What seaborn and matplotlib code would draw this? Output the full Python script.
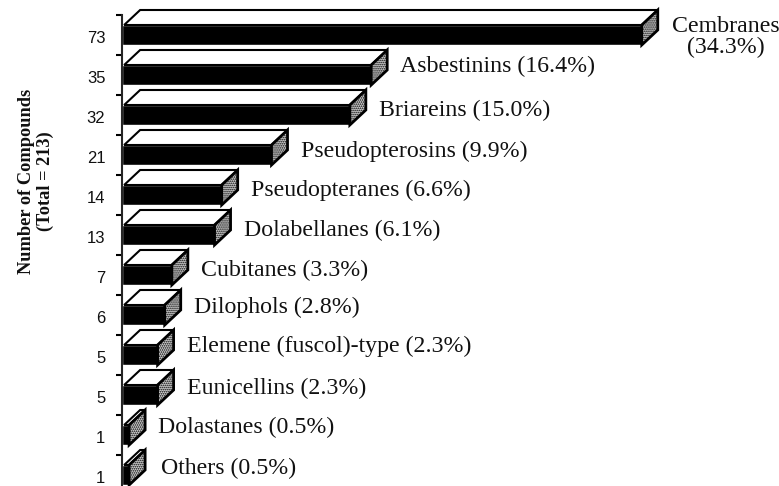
import matplotlib
matplotlib.use("Agg")
import matplotlib.pyplot as plt
import matplotlib.transforms as mtrans
from matplotlib.patches import Polygon
from matplotlib.ticker import FixedLocator
import pandas as pd
import seaborn as sns

names = ["Cembranes", "Asbestinins", "Briareins", "Pseudopterosins", "Pseudopteranes",
         "Dolabellanes", "Cubitanes", "Dilophols", "Elemene (fuscol)-type", "Eunicellins",
         "Dolastanes", "Others"]
counts = [73, 35, 32, 21, 14, 13, 7, 6, 5, 5, 1, 1]
percents = ["34.3", "16.4", "15.0", "9.9", "6.6", "6.1", "3.3", "2.8", "2.3", "2.3", "0.5", "0.5"]

W, H = 779, 486
AX_LEFT = 122
PX_PER_UNIT = 7.12
ROW_PX, FIRST_ROW_PX = 40, 35
DEPTH_X = 16 / PX_PER_UNIT
DEPTH_Y = 15 / ROW_PX
# label offsets from the bar's rear corner, in pixels (layout only)
label_dx = [14, 13, 13, 13, 13, 13, 13, 13, 13, 13, 13, 16]
label_dy = [2, -9, -5, -4, -5, -5, -5, -8, -9, -7, -8, -7]

sns.set_style("ticks")
plt.rcParams["hatch.linewidth"] = 0.8
fig = plt.figure(figsize=(W / 100, H / 100), dpi=100)
ax = fig.add_axes([AX_LEFT / W, 0, 1 - AX_LEFT / W, 1])
ax.patch.set_alpha(0)

df = pd.DataFrame({"name": names, "count": counts})
sns.barplot(data=df, y="name", x="count", orient="h", color="black", saturation=1,
            width=0.5, ax=ax)

ax.set_xlim(0, (W - AX_LEFT) / PX_PER_UNIT)
ax.set_ylim((H - FIRST_ROW_PX) / ROW_PX, -FIRST_ROW_PX / ROW_PX)

for i, bar in enumerate(ax.patches):
    x1 = bar.get_width()
    top, bottom = bar.get_y(), bar.get_y() + bar.get_height()
    ax.add_patch(Polygon([(0.3, top), (0.3 + DEPTH_X, top - DEPTH_Y),
                          (x1 + DEPTH_X, top - DEPTH_Y), (x1, top)],
                         closed=True, facecolor="white", edgecolor="black",
                         linewidth=1.5, clip_on=False, zorder=3))
    ax.add_patch(Polygon([(x1, top), (x1 + DEPTH_X, top - DEPTH_Y),
                          (x1 + DEPTH_X, bottom - DEPTH_Y), (x1, bottom)],
                         closed=True, facecolor="#cfcfcf", edgecolor="black", hatch="........",
                         linewidth=2.0, clip_on=False, zorder=4))
    if i == 0:
        text = f"{names[i]}\n({percents[i]}%)"
    else:
        text = f"{names[i]} ({percents[i]}%)"
    ax.annotate(text, xy=(x1 + DEPTH_X, i), xytext=(label_dx[i] * 0.72, -label_dy[i] * 0.72),
                textcoords="offset points", ha="left", va="center", multialignment="center",
                family="Liberation Serif", fontsize=17.2, color="#111111",
                annotation_clip=False, linespacing=1.02)

# count labels at bar centres, tick marks between bars
ax.set_yticks(range(len(counts)))
ax.set_yticklabels(counts, family="Liberation Sans", fontsize=12, color="#111111")
ax.yaxis.set_minor_locator(FixedLocator([i - 0.5 for i in range(len(counts))]))
ax.tick_params(axis="y", which="major", length=0, pad=12)
ax.tick_params(axis="y", which="minor", length=4, width=1.5, color="black")
shift = mtrans.ScaledTranslation(0, -2 / 100, fig.dpi_scale_trans)
for lab in ax.get_yticklabels():
    lab.set_transform(lab.get_transform() + shift)

ax.set_xlabel("")
ax.set_xticks([])
ax.set_ylabel("Number of Compounds\n(Total = 213)", family="Liberation Serif",
              fontweight="bold", fontsize=13.2, linespacing=1.1, color="#111111")
ax.yaxis.set_label_coords((54 - AX_LEFT) / (W - AX_LEFT), 1 - 181 / H)

sns.despine(ax=ax, top=True, right=True, bottom=True, left=False)
ax.spines["left"].set_linewidth(1.5)
ax.spines["left"].set_bounds(-0.5, ax.get_ylim()[0])

fig.savefig("out.png", dpi=100)
